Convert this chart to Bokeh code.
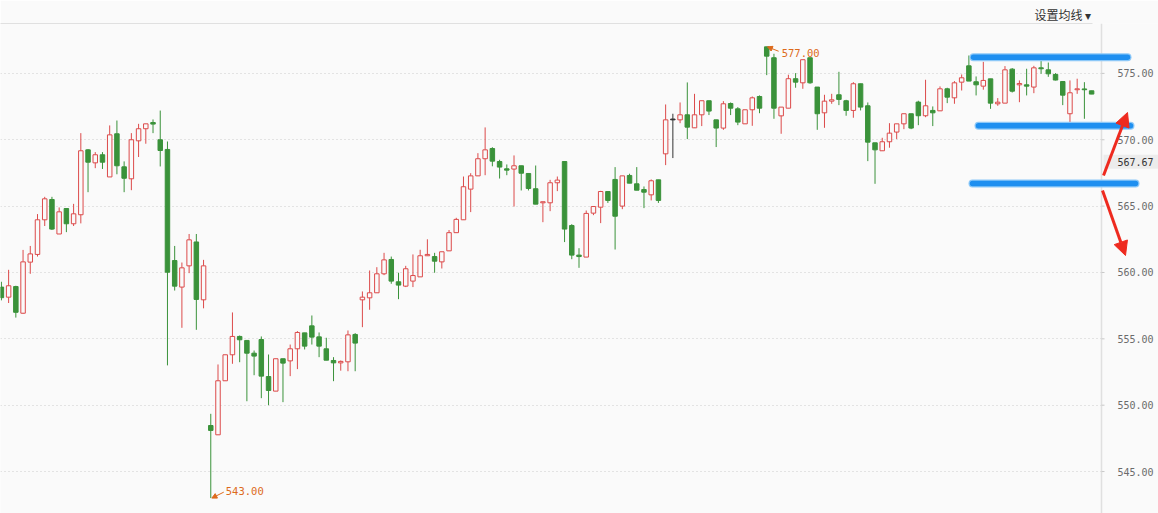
from bokeh.plotting import figure
from bokeh.models import (ColumnDataSource, FixedTicker, PrintfTickFormatter, LinearAxis,
                          Label, Arrow, NormalHead, Range1d, Span, BoxAnnotation)
from bokeh.embed import file_html
from bokeh.resources import INLINE

# ---------------- data ----------------
opens = [558.9, 558.14, 558.94, 556.93, 560.78, 561.36, 563.97, 565.5, 562.9, 564.82,
         563.67, 564.35, 569.24, 568.26, 568.87, 567.2, 570.45, 567.96, 567.06, 569.92,
         570.83, 571.3, 570.0, 569.27, 560.9, 558.9, 560.5, 562.3, 557.94, 548.47,
         547.77, 551.84, 553.8, 555.18, 554.88, 553.92, 554.95, 552.16, 551.06, 553.5,
         553.34, 554.25, 555.45, 555.98, 555.15, 554.25, 553.37, 553.19, 553.27, 555.33,
         557.94, 558.09, 558.47, 559.9, 560.98, 559.3, 558.97, 559.35, 559.67, 561.26,
         561.2, 560.8, 561.63, 563.0, 563.97, 566.28, 567.28, 568.57, 569.34, 568.36,
         567.81, 567.79, 568.04, 567.46, 566.31, 565.25, 565.25, 566.76, 568.36, 563.54,
         561.31, 561.16, 564.47, 564.92, 566.1, 567.01, 565.0, 567.31, 566.68, 566.25,
         565.85, 566.98, 568.94, 571.5, 571.5, 571.88, 570.9, 571.88, 572.94, 571.5,
         570.88, 572.73, 572.33, 571.2, 572.26, 573.26, 577.0, 576.18, 571.8, 572.38,
         574.6, 574.29, 576.18, 573.97, 572.03, 572.91, 573.39, 572.94, 572.21, 574.22,
         572.56, 569.77, 569.17, 569.85, 570.58, 571.2, 571.96, 572.84, 571.81, 572.21,
         572.18, 573.84, 573.16, 574.34, 575.57, 574.37, 574.04, 574.59, 572.71, 572.76,
         575.32, 574.14, 574.14, 573.97, 575.42, 575.27, 574.92, 574.39, 571.96, 573.77,
         573.82, 573.69]
highs = [559.3, 560.2, 559.0, 561.7, 562.0, 564.4, 565.7, 565.7, 564.9, 564.82,
         565.17, 570.5, 569.3, 569.07, 569.07, 571.08, 571.45, 568.37, 570.5, 571.2,
         571.2, 571.53, 572.2, 569.87, 562.0, 560.75, 562.9, 562.9, 560.95, 549.35,
         553.07, 553.8, 556.99, 555.25, 554.88, 554.12, 555.18, 553.82, 553.5, 553.5,
         554.57, 555.58, 555.45, 556.76, 555.48, 555.08, 553.62, 553.37, 555.63, 555.43,
         558.57, 560.15, 560.4, 561.48, 561.2, 559.98, 560.5, 561.36, 561.71, 562.5,
         561.48, 561.56, 563.2, 564.12, 567.23, 567.48, 568.99, 570.93, 569.44, 568.49,
         568.14, 568.82, 568.04, 567.46, 568.06, 565.33, 566.98, 567.23, 568.36, 563.64,
         561.83, 564.67, 564.97, 566.15, 566.1, 567.94, 567.28, 567.44, 567.94, 566.48,
         567.01, 566.98, 572.66, 571.96, 572.81, 574.32, 573.46, 572.94, 572.94, 571.5,
         572.91, 572.81, 572.46, 572.26, 573.26, 573.34, 577.0, 576.48, 572.46, 574.9,
         575.02, 576.03, 576.18, 573.97, 573.39, 573.46, 575.12, 573.01, 574.34, 574.22,
         572.81, 569.77, 570.15, 571.25, 571.2, 571.96, 571.96, 572.94, 574.52, 572.51,
         574.02, 573.92, 574.42, 574.92, 576.35, 574.77, 575.87, 574.59, 573.14, 575.55,
         575.4, 574.47, 575.35, 575.57, 575.97, 575.82, 575.02, 574.39, 574.47, 574.6,
         574.34, 573.69]
lows = [557.9, 557.7, 556.6, 556.9, 559.9, 561.2, 563.5, 563.2, 562.9, 563.04,
        563.5, 563.7, 566.05, 567.86, 567.8, 567.2, 567.4, 566.05, 566.2, 568.7,
        569.7, 570.5, 567.99, 553.0, 558.64, 555.83, 559.95, 555.68, 557.3, 543.0,
        547.77, 551.84, 553.12, 553.24, 550.3, 552.26, 550.53, 550.0, 551.06, 550.23,
        552.19, 552.72, 554.2, 554.57, 553.62, 553.39, 551.81, 552.6, 552.56, 552.56,
        555.88, 557.19, 558.47, 559.8, 559.15, 557.99, 558.9, 558.9, 559.67, 561.26,
        559.98, 560.3, 561.63, 563.0, 563.97, 564.55, 567.28, 567.33, 568.0, 567.08,
        567.33, 564.97, 566.18, 566.18, 565.15, 563.79, 564.62, 566.13, 562.29, 561.0,
        560.35, 561.16, 564.32, 563.72, 565.24, 561.73, 564.77, 566.73, 566.2, 564.85,
        565.43, 565.24, 568.09, 568.62, 571.25, 570.05, 570.9, 571.03, 571.86, 569.45,
        570.75, 571.86, 571.1, 571.2, 571.05, 572.0, 574.87, 571.58, 570.45, 572.38,
        573.92, 573.84, 574.22, 570.75, 570.9, 572.71, 572.61, 571.81, 571.66, 572.21,
        568.39, 566.68, 569.17, 569.4, 570.05, 570.8, 570.8, 571.1, 571.7, 571.03,
        572.18, 572.76, 572.71, 573.71, 574.42, 573.34, 573.77, 572.33, 572.56, 572.76,
        573.56, 572.83, 573.34, 573.51, 574.97, 574.74, 574.47, 572.61, 571.05, 573.46,
        571.58, 573.44]
closes = [558.1, 559.0, 557.0, 560.8, 561.4, 563.97, 565.55, 563.27, 564.57, 563.67,
          564.42, 569.17, 568.31, 568.87, 568.31, 570.37, 568.04, 567.1, 570.0, 570.83,
          571.2, 571.18, 569.19, 560.02, 558.97, 560.35, 562.46, 557.97, 560.5, 548.1,
          551.84, 553.8, 555.18, 554.93, 553.92, 553.7, 552.19, 551.11, 553.5, 553.17,
          554.25, 555.48, 554.45, 555.13, 554.45, 553.39, 553.19, 553.3, 555.3, 554.68,
          558.14, 558.47, 559.9, 560.95, 559.35, 559.05, 560.28, 559.77, 561.26, 561.36,
          560.85, 561.56, 563.0, 564.0, 566.46, 567.28, 568.57, 569.24, 568.39, 567.94,
          567.71, 568.04, 567.48, 566.33, 565.15, 565.33, 566.76, 566.96, 563.27, 561.31,
          561.2, 564.45, 564.97, 566.1, 565.43, 564.24, 567.28, 566.73, 566.2, 566.05,
          566.91, 565.43, 571.5, 571.5, 571.88, 570.95, 571.88, 572.94, 572.16, 570.88,
          572.71, 572.38, 571.33, 572.26, 573.16, 572.38, 576.3, 572.38, 572.46, 574.6,
          574.34, 576.03, 574.29, 571.96, 572.91, 573.01, 573.04, 572.21, 574.22, 572.46,
          569.82, 569.24, 569.85, 570.5, 571.2, 571.96, 570.88, 571.81, 572.56, 572.03,
          573.84, 573.21, 574.29, 574.67, 574.42, 574.14, 574.47, 572.76, 572.83, 575.27,
          573.66, 574.24, 574.04, 575.42, 575.35, 574.97, 574.5, 573.36, 573.54, 573.84,
          573.77, 573.44]
y_ticks = [545, 550, 555, 560, 565, 570, 575]
price_levels = [576.22, 571.05, 566.71]      # hand-drawn blue level lines
pointer_price = 567.67
menu_text = "设置均线 ▾"

# ---------------- layout helpers (pixels of the 1158x513 canvas) ----------------
W, H = 1158, 513
TOP_PX = 23                 # frame top (header separator)
AXIS_PX = 1101              # x of the price-axis line
X0_PX, BAR_PX = 0.9, 7.22   # first bar centre, bar spacing
Y_LO, Y_HI = 541.84, 578.76
PPU = (H - TOP_PX) / (Y_HI - Y_LO)


def dx(px):
    return (px - X0_PX) / BAR_PX


def dy(py):
    return Y_HI - (py - TOP_PX) / PPU


# ---------------- styling ----------------
BG = "#fafafa"
UP = "#dc4a4a"
DOWN = "#3a923a"
FLAT = "#333333"
MONO = "DejaVu Sans Mono"
LINE = "#e0e0e0"

idx = list(range(len(opens)))
colors, fills, tops, bottoms = [], [], [], []
for o, c in zip(opens, closes):
    if c > o:
        colors.append(UP); fills.append(BG)
    elif c < o:
        colors.append(DOWN); fills.append(DOWN)
    else:
        colors.append(FLAT); fills.append(FLAT)
    lo, hi = min(o, c), max(o, c)
    if hi - lo < 0.06:
        hi = lo + 0.06
    bottoms.append(lo); tops.append(hi)

src = ColumnDataSource(dict(x=idx, high=highs, low=lows, top=tops, bottom=bottoms,
                            color=colors, fill=fills))

p = figure(width=W, height=H, output_backend="svg", toolbar_location=None,
           x_range=Range1d(dx(0), dx(W)), y_range=Range1d(Y_LO, Y_HI),
           x_axis_location=None, y_axis_location="right",
           min_border_left=0, min_border_right=0, min_border_top=TOP_PX, min_border_bottom=0,
           background_fill_color=BG, border_fill_color=BG, outline_line_color=None)
p.xgrid.visible = False

# menu text in the header
p.title.text = menu_text
p.title.align = "left"
p.title.offset = 1034
p.title.standoff = 2
p.title.text_font = "Noto Sans CJK SC"
p.title.text_font_style = "normal"
p.title.text_font_size = "12px"
p.title.text_color = "#333333"

# header separator line (a bare axis above)
top_axis = LinearAxis(ticker=FixedTicker(ticks=[]), axis_line_color=LINE,
                      major_tick_line_color=None, minor_tick_line_color=None,
                      major_tick_in=0, major_tick_out=0, major_label_standoff=0,
                      major_label_text_font_size="0px", bounds=(dx(0), dx(1092)))
p.add_layout(top_axis, "above")

# price axis: labels drawn back into the right-hand strip
ax = p.yaxis[0]
ax.ticker = FixedTicker(ticks=y_ticks)
ax.formatter = PrintfTickFormatter(format="%.2f")
ax.axis_line_color = None
ax.major_tick_line_color = None
ax.major_tick_in = 0
ax.major_tick_out = 0
ax.minor_tick_line_color = None
ax.major_label_standoff = -(W - 1117)
ax.major_label_text_font = MONO
ax.major_label_text_font_size = "10px"
ax.major_label_text_color = "#6b6b6b"

p.ygrid.ticker = FixedTicker(ticks=y_ticks)
p.ygrid.grid_line_color = "#cdcdcd"
p.ygrid.grid_line_dash = "1 3"
p.ygrid.level = "image"

# strip right of the axis line (covers the grid there)
p.add_layout(BoxAnnotation(left=dx(AXIS_PX), fill_color=BG, fill_alpha=1.0,
                           line_color=None, level="underlay"))
p.add_layout(Span(location=dx(AXIS_PX), dimension="height", line_color=LINE,
                  line_width=1.5, level="guide"))
# small tick marks on the axis line
for t in y_ticks:
    p.add_layout(Arrow(x_start=dx(AXIS_PX), y_start=t, x_end=dx(AXIS_PX + 3), y_end=t,
                       end=None, line_color="#c8c8c8", line_width=1, level="guide"))

# candles
p.segment(x0="x", y0="high", x1="x", y1="low", line_color="color", line_width=1, source=src)
p.vbar(x="x", width=0.62, top="top", bottom="bottom", fill_color="fill",
       line_color="color", line_width=1, source=src)

# extreme annotations
i_max = max(idx, key=lambda i: highs[i])
i_min = min(idx, key=lambda i: lows[i])
ORANGE = "#dd6a1c"
p.add_layout(Arrow(x_start=i_max + 1.65, y_start=highs[i_max] - 0.33,
                   x_end=i_max + 0.1, y_end=highs[i_max], line_color=ORANGE, line_width=1,
                   end=NormalHead(size=5, fill_color=ORANGE, line_color=ORANGE)))
p.add_layout(Label(x=i_max, y=highs[i_max], x_offset=15, y_offset=-6,
                   text=f"{highs[i_max]:.2f}", text_font=MONO, text_font_size="10.5px",
                   text_color=ORANGE, text_baseline="middle"))
p.add_layout(Arrow(x_start=i_min + 1.8, y_start=lows[i_min] + 0.45,
                   x_end=i_min + 0.15, y_end=lows[i_min], line_color=ORANGE, line_width=1,
                   end=NormalHead(size=5, fill_color=ORANGE, line_color=ORANGE)))
p.add_layout(Label(x=i_min, y=lows[i_min], x_offset=15, y_offset=7,
                   text=f"{lows[i_min]:.2f}", text_font=MONO, text_font_size="10.5px",
                   text_color=ORANGE, text_baseline="middle"))

# blue level lines
extents = [(973, 1127), (978, 1130), (972, 1135)]
for lvl, (xa, xb) in zip(price_levels, extents):
    p.add_layout(Arrow(x_start=dx(xa), y_start=lvl, x_end=dx(xb), y_end=lvl, end=None,
                       line_color="#8cc8f8", line_width=8, line_cap="round"))
    p.add_layout(Arrow(x_start=dx(xa), y_start=lvl, x_end=dx(xb), y_end=lvl, end=None,
                       line_color="#1e8ff0", line_width=5.5, line_cap="round"))

# pointer price tag on the axis
tag_y = pointer_price + 9 / PPU
p.add_layout(BoxAnnotation(left=dx(1103), right=dx(W), top=tag_y + 7 / PPU,
                           bottom=tag_y - 7 / PPU, fill_color="#ececec", fill_alpha=1.0,
                           line_color=None))
p.add_layout(Label(x=dx(1117), y=tag_y, text=f"{pointer_price:.2f}", text_font=MONO,
                   text_font_size="10px", text_color="#333333", text_baseline="middle"))

# red arrows
RED = "#ee2a1f"
p.add_layout(Arrow(x_start=dx(1103), y_start=dy(175), x_end=dx(1127), y_end=dy(112),
                   line_color=RED, line_width=3,
                   end=NormalHead(size=14, fill_color=RED, line_color=RED)))
p.add_layout(Arrow(x_start=dx(1102), y_start=dy(190), x_end=dx(1125), y_end=dy(255),
                   line_color=RED, line_width=3,
                   end=NormalHead(size=14, fill_color=RED, line_color=RED)))

open("out.html", "w").write(file_html(p, INLINE))
